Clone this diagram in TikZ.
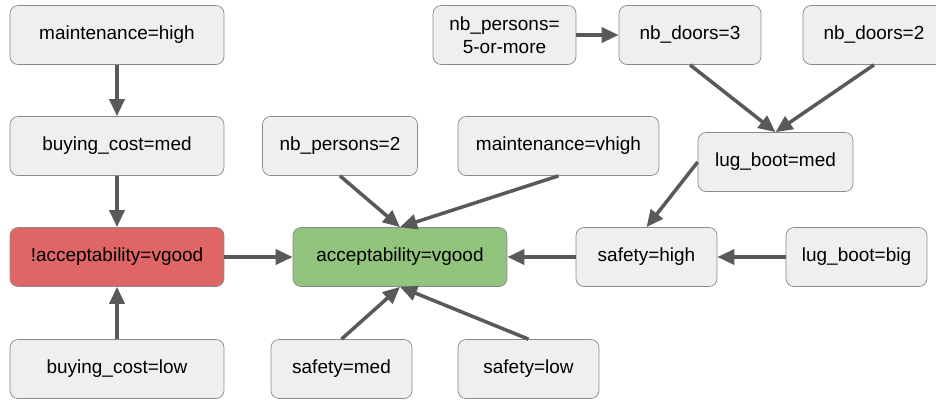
\documentclass[tikz,border=0pt]{standalone}
\usepackage{fontspec}
\setmainfont{Liberation Sans}
\usetikzlibrary{arrows.meta}
\definecolor{boxgray}{HTML}{EFEFEF}
\definecolor{boxline}{HTML}{8A8A8A}
\definecolor{edgegray}{HTML}{595959}
\definecolor{notgood}{HTML}{E06666}
\definecolor{isgood}{HTML}{93C47D}

\begin{document}
\begin{tikzpicture}[x=0.02cm, y=-0.02cm]
    \tikzset{attr/.style = {shape=rectangle, rounded corners=0.16cm, draw=boxline, fill=boxgray, minimum height=1.18cm, align=center, inner sep=0pt, font=\fontsize{10.8}{13}\selectfont}}
    \tikzset{edge/.style = {draw=edgegray, line width=2pt, -{Triangle[length=0.34cm, width=0.3cm]}}}
    \useasboundingbox (0,0) rectangle (936,403);

    % vertices
    \node[attr, minimum width=4.28cm] (mh) at (117,35) {maintenance=high};
    \node[attr, minimum width=4.28cm] (bcm) at (117,146) {buying\_cost=med};
    \node[attr, minimum width=4.28cm, fill=notgood] (nacc) at (117,257) {!acceptability=vgood};
    \node[attr, minimum width=4.28cm] (bcl) at (117,369) {buying\_cost=low};
    \node[attr, minimum width=3.1cm] (np2) at (340,146) {nb\_persons=2};
    \node[attr, minimum width=4.02cm] (mvh) at (558.5,146) {maintenance=vhigh};
    \node[attr, minimum width=4.28cm, fill=isgood] (acc) at (400,257) {acceptability=vgood};
    \node[attr, minimum width=2.82cm] (sm) at (341.5,369) {safety=med};
    \node[attr, minimum width=2.82cm] (sl) at (528.5,369) {safety=low};
    \node[attr, minimum width=2.86cm] (np5) at (504.5,35) {nb\_persons=\\5-or-more};
    \node[attr, minimum width=2.84cm] (nd3) at (690,35) {nb\_doors=3};
    \node[attr, minimum width=2.84cm] (nd2) at (874,35) {nb\_doors=2};
    \node[attr, minimum width=3.1cm] (lbm) at (775.5,162) {lug\_boot=med};
    \node[attr, minimum width=2.82cm] (sh) at (646.5,257) {safety=high};
    \node[attr, minimum width=2.82cm] (lbb) at (856.5,257) {lug\_boot=big};

    % edges
    \draw[edge] (mh) -- (bcm);
    \draw[edge] (bcm) -- (nacc);
    \draw[edge] (bcl) -- (nacc);
    \draw[edge] (nacc) -- (acc);
    \draw[edge] (np2.south) -- (acc.north);
    \draw[edge] (mvh.south) -- (acc.north);
    \draw[edge] (sm.north) -- (acc.south);
    \draw[edge] (sl.north) -- (acc.south);
    \draw[edge] (sh) -- (acc);
    \draw[edge] (lbb) -- (sh);
    \draw[edge] (lbm.west) -- (sh.north);
    \draw[edge] (nd3.south) -- (lbm.north);
    \draw[edge] (nd2.south) -- (lbm.north);
    \draw[edge] (np5) -- (nd3);
\end{tikzpicture}
\end{document}
